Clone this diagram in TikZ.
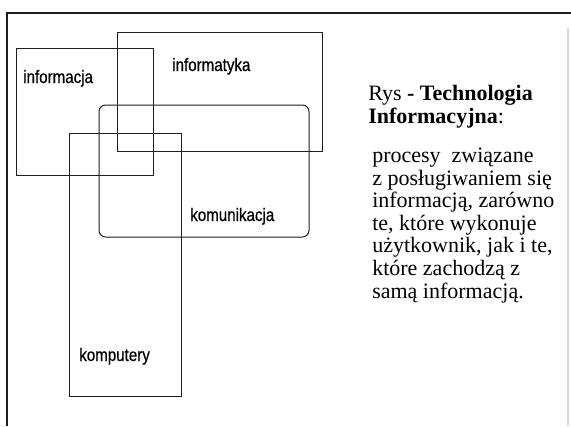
\documentclass[tikz,border=0pt]{standalone}
\usepackage{fontspec}
\setmainfont{Liberation Serif}
\newfontfamily\labelfont{Liberation Sans}[FakeStretch=0.84, FakeBold=0.6]
\usetikzlibrary{positioning, fit}
\definecolor{inkline}{HTML}{1E1E1E}
\definecolor{scanedge}{HTML}{D8D8D8}

\begin{document}
\begin{tikzpicture}[
    x=0.75pt, y=-0.75pt,
    area/.style={draw=inkline, line width=0.75pt, inner sep=0pt},
    arealabel/.style={font=\labelfont\fontsize{13.5}{15}\selectfont, inner sep=0pt, anchor=base west},
    caption/.style={font=\fontsize{16.5}{16.9}\selectfont, inner sep=0pt, align=left, anchor=base west}
]
\useasboundingbox (0,0) rectangle (571,426);

% Frame of the figure
\coordinate (frameBL) at (7,426);
\coordinate (frameTL) at (7,13);
\coordinate (frameTR) at (571,13);
\draw[line width=1.6pt, inkline] (frameBL) -- (frameTL) -- (frameTR);
\draw[line width=0.8pt, scanedge] (568,28) -- (568,426);

% Areas
\node[area, fit={(16,48) (153,175)}] (informacja) {};
\node[area, fit={(117,32) (322,151)}] (informatyka) {};
\node[area, rounded corners=5pt, fit={(99,105) (309,237)}] (komunikacja) {};
\node[area, fit={(69,133) (181,396)}] (komputery) {};

% Area labels
\node[arealabel] (lblinformacja) at (23,83) {informacja};
\node[arealabel] (lblinformatyka) at (172,71) {informatyka};
\node[arealabel] (lblkomunikacja) at (190,221) {komunikacja};
\node[arealabel] (lblkomputery) at (79,361) {komputery};

% Caption (base anchor sits on the last line)
\node[caption] (title) at (368,123) {Rys \textbf{- Technologia}\\\textbf{Informacyjna}:};
\node[caption] (body) at (372,298) {procesy \ związane\\z posługiwaniem się\\informacją, zarówno\\te, które wykonuje\\użytkownik, jak i te,\\które zachodzą z\\samą informacją.};

\end{tikzpicture}
\end{document}
